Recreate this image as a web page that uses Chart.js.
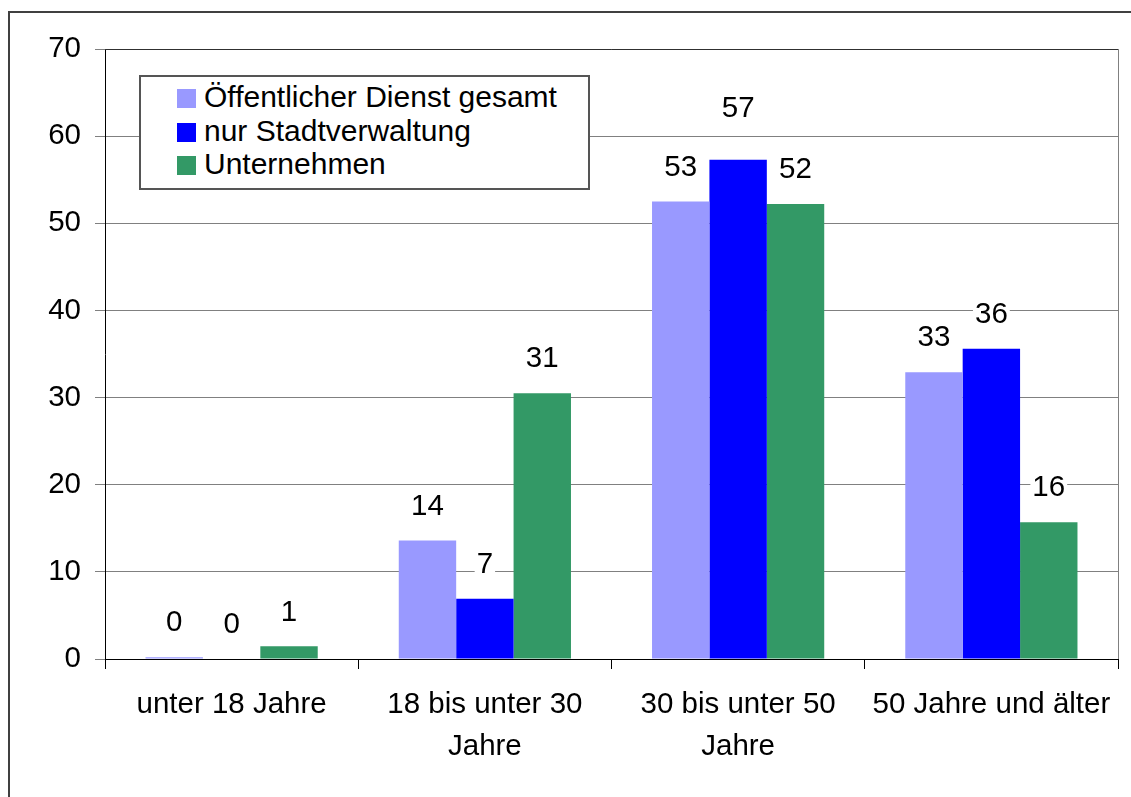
<!DOCTYPE html>
<html>
<head>
<meta charset="utf-8">
<script src="https://cdn.jsdelivr.net/npm/chart.js@4.4.1/dist/chart.umd.min.js"></script>
<style>
  html, body { margin: 0; padding: 0; background: #fff; overflow: hidden; }
  #wrap { position: relative; width: 1131px; height: 797px; }
  #frame { position: absolute; left: 8px; top: 11px; width: 1140px; height: 800px; border: 2px solid #404040; box-sizing: border-box; }
  #chart { position: absolute; left: 0; top: 0; }
  #legend { position: absolute; left: 139px; top: 75px; width: 451px; height: 115px; border: 2px solid #555; box-sizing: border-box; background: #fff;
            font-family: "Liberation Sans", Arial, sans-serif; font-size: 30px; color: #000; }
  .item { position: absolute; left: 36px; height: 30px; line-height: 30px; white-space: nowrap; }
  .item span { display: inline-block; width: 19px; height: 19px; margin-right: 8px; vertical-align: -1px; }
</style>
</head>
<body>
<div id="wrap">
  <div id="frame"></div>
  <canvas id="chart" width="1131" height="797"></canvas>
  <div id="legend"></div>
</div>
<script>
// age groups
const categories = ['unter 18 Jahre', ['18 bis unter 30', 'Jahre'], ['30 bis unter 50', 'Jahre'], '50 Jahre und älter'];
const seriesNames = ['Öffentlicher Dienst gesamt', 'nur Stadtverwaltung', 'Unternehmen'];
const oeffentlich = [0.2, 13.6, 52.5, 32.9];
const stadtverwaltung = [0, 6.9, 57.3, 35.6];
const unternehmen = [1.45, 30.5, 52.2, 15.7];
const yTicks = [0, 10, 20, 30, 40, 50, 60, 70];

const colors = ['#9999ff', '#0000ff', '#339966'];
const FONT = '"Liberation Sans", Arial, sans-serif';

// value labels, drawn on a white patch like the original
const valueLabels = {
    id: 'valueLabels',
    afterDatasetsDraw(chart, args, opts) {
        const ctx = chart.ctx;
        ctx.save();
        ctx.font = '29.5px ' + FONT;
        ctx.textAlign = 'center';
        ctx.textBaseline = 'middle';
        chart.data.datasets.forEach((ds, di) => {
            chart.getDatasetMeta(di).data.forEach((bar, i) => {
                const txt = String(Math.round(ds.data[i]));
                const lift = 34 + ((opts.extra[di] && opts.extra[di][i]) || 0);
                const y = bar.y - lift;
                const w = ctx.measureText(txt).width + 4;
                ctx.fillStyle = '#fff';
                ctx.fillRect(bar.x - w / 2, y - 12, w, 24);
                ctx.fillStyle = '#000';
                ctx.fillText(txt, bar.x, y);
            });
        });
        ctx.restore();
    }
};

const plotBorder = {
    id: 'plotBorder',
    afterDraw(chart) {
        const a = chart.chartArea, ctx = chart.ctx;
        ctx.save();
        ctx.strokeStyle = '#808080';
        ctx.lineWidth = 1;
        ctx.beginPath();
        ctx.moveTo(a.right + 0.5, a.top);
        ctx.lineTo(a.right + 0.5, a.bottom);
        ctx.stroke();
        ctx.strokeStyle = '#303030';
        ctx.beginPath();
        ctx.moveTo(a.left, a.top + 0.5);
        ctx.lineTo(a.right, a.top + 0.5);
        ctx.stroke();
        ctx.restore();
    }
};

const chart = new Chart(document.getElementById('chart'), {
    type: 'bar',
    data: {
        labels: categories,
        datasets: [
            { label: seriesNames[0], data: oeffentlich, backgroundColor: colors[0] },
            { label: seriesNames[1], data: stadtverwaltung, backgroundColor: colors[1] },
            { label: seriesNames[2], data: unternehmen, backgroundColor: colors[2] }
        ]
    },
    options: {
        responsive: false,
        animation: false,
        devicePixelRatio: 1,
        layout: { padding: { top: 49, right: 13, left: 0, bottom: 0 } },
        datasets: { bar: { categoryPercentage: 0.68, barPercentage: 1, borderWidth: 0 } },
        plugins: {
            legend: { display: false },
            tooltip: { enabled: false },
            valueLabels: { extra: { 1: { 2: 17 } } }
        },
        scales: {
            x: {
                grid: { offset: true, drawOnChartArea: false, drawTicks: true, tickLength: 10, color: '#000' },
                border: { color: '#000', width: 1 },
                ticks: { color: '#000', font: { family: FONT, size: 29.5, lineHeight: 1.42 }, padding: 15, maxRotation: 0, autoSkip: false },
                afterFit(s) { s.height = 138; }
            },
            y: {
                min: 0, max: 70,
                afterBuildTicks(s) { s.ticks = yTicks.map(v => ({ value: v })); },
                grid: { color: '#808080', tickLength: 10 },
                border: { color: '#000', width: 1 },
                ticks: { color: '#000', font: { family: FONT, size: 29.5 }, padding: 14 },
                afterFit(s) { s.width = 105; }
            }
        }
    },
    plugins: [valueLabels, plotBorder]
});

// legend box inside the plot
const legendEl = document.getElementById('legend');
chart.data.datasets.forEach((ds, i) => {
    const row = document.createElement('div');
    row.className = 'item';
    row.style.top = (5 + i * 33.5) + 'px';
    row.innerHTML = '<span style="background:' + ds.backgroundColor + '"></span>' + ds.label;
    legendEl.appendChild(row);
});
</script>
</body>
</html>
